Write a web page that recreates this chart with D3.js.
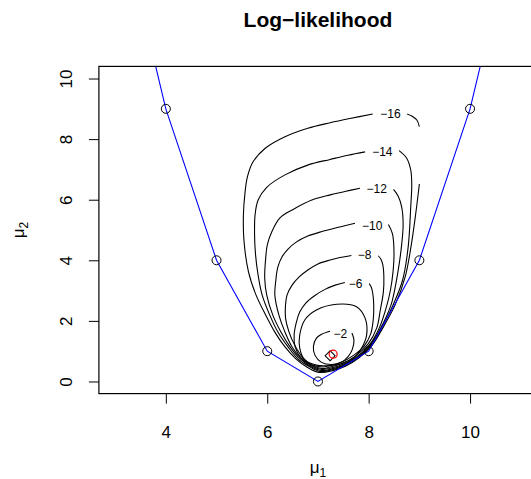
<!DOCTYPE html>
<html>
<head>
<meta charset="utf-8">
<script src="https://cdn.jsdelivr.net/npm/d3@7"></script>
<style>
  body { margin: 0; background: #fff; }
  svg { display: block; font-family: "Liberation Sans", Arial, sans-serif; }
  .contour { fill: none; stroke: #000; stroke-width: 1.1; }
  .clab { font-size: 12px; text-anchor: middle; dominant-baseline: central; }
  .axis text { font-size: 17px; fill: #000; font-family: "Liberation Sans", Arial, sans-serif; }
  .axis line { stroke: #000; }
</style>
</head>
<body>
<div id="chart"></div>
<script>
var width = 531, height = 479;

// parabola points mu2 = (mu1 - 7)^2, as plotted
var curveMu1 = [3, 4, 5, 6, 7, 8, 9, 10, 11];
var curveMu2 = [16, 9, 4, 1, 0, 1, 4, 9, 16];
var pointMu1 = [4, 5, 6, 7, 8, 9, 10];
var pointMu2 = [9, 4, 1, 0, 1, 4, 9];

// estimates
var diamondPt = [7.24, 0.85];
var redPt = [7.30, 0.90];

// contour lines, [mu1, mu2]
var contour16 = [[8.08,8.83],[7.63,8.68],[7.24,8.54],[6.80,8.36],[6.35,8.08],[5.96,7.70],[5.72,7.25],
  [5.61,6.76],[5.56,6.21],[5.53,5.50],[5.54,4.67],[5.63,3.62],[5.78,2.85],[5.97,2.19],[6.15,1.63],
  [6.35,1.14],[6.57,0.74],[6.78,0.48],[7.02,0.30],[7.28,0.35],[7.55,0.51],[7.81,0.78],[8.07,1.20],
  [8.28,1.77],[8.52,2.52],[8.72,3.45],[8.84,4.50],[8.93,5.56],[9.00,6.52]];
var contour16b = [[9.00,8.41],[8.95,8.63],[8.85,8.76],[8.76,8.83]];
var contour14 = [[7.93,7.58],[7.59,7.47],[7.24,7.33],[6.81,7.15],[6.35,6.82],[5.99,6.41],[5.82,5.99],
  [5.76,5.50],[5.75,4.83],[5.77,4.17],[5.82,3.51],[5.90,2.85],[6.05,2.19],[6.21,1.63],[6.41,1.14],
  [6.61,0.74],[6.82,0.50],[7.04,0.33],[7.26,0.38],[7.53,0.53],[7.79,0.78],[8.05,1.20],[8.26,1.77],
  [8.48,2.52],[8.67,3.35],[8.78,4.45],[8.83,5.77],[8.85,6.49],[8.83,6.98],[8.75,7.37],[8.60,7.62]];
var contour12 = [[7.83,6.38],[7.53,6.27],[7.24,6.16],[6.88,5.99],[6.51,5.68],[6.25,5.40],[6.09,4.94],
  [6.00,4.50],[5.97,4.08],[5.95,3.41],[5.99,2.85],[6.11,2.19],[6.27,1.63],[6.45,1.14],[6.64,0.76],
  [6.84,0.51],[7.06,0.36],[7.24,0.40],[7.51,0.54],[7.77,0.78],[8.03,1.20],[8.24,1.77],[8.44,2.52],
  [8.50,2.92],[8.59,3.75],[8.65,4.50],[8.68,5.17],[8.65,5.77],[8.58,6.12],[8.49,6.34]];
var contour10 = [[7.73,5.22],[7.43,5.10],[7.08,4.95],[6.80,4.80],[6.57,4.60],[6.41,4.37],[6.29,4.11],
  [6.21,3.78],[6.17,3.35],[6.15,2.85],[6.23,2.19],[6.35,1.63],[6.49,1.14],[6.66,0.78],[6.86,0.53],
  [7.08,0.40],[7.22,0.43],[7.49,0.56],[7.75,0.79],[8.01,1.20],[8.21,1.77],[8.36,2.52],[8.43,3.02],
  [8.48,3.61],[8.50,4.24],[8.47,4.87],[8.39,5.18]];
var contour8 = [[7.66,4.16],[7.43,4.09],[7.24,4.01],[7.00,3.88],[6.80,3.68],[6.63,3.45],[6.49,3.18],
  [6.39,2.85],[6.36,2.52],[6.36,2.10],[6.43,1.63],[6.55,1.17],[6.70,0.79],[6.88,0.54],[7.08,0.43],
  [7.20,0.46],[7.47,0.59],[7.73,0.83],[7.99,1.24],[8.16,1.77],[8.23,2.36],[8.29,2.95],[8.30,3.45],
  [8.28,3.84],[8.24,4.04],[8.19,4.15]];
var contour6 = [[7.53,3.27],[7.34,3.18],[7.14,3.04],[6.94,2.84],[6.76,2.59],[6.64,2.29],[6.57,1.93],
  [6.53,1.53],[6.55,1.14],[6.66,0.79],[6.86,0.56],[7.10,0.48],[7.18,0.50],[7.45,0.63],[7.71,0.87],
  [7.91,1.17],[8.04,1.57],[8.09,2.03],[8.10,2.52],[8.08,2.92],[8.05,3.12],[8.01,3.23]];
var contour4 = [[7.37,2.55],[6.97,2.36],[6.74,2.03],[6.64,1.53],[6.64,1.11],[6.74,0.71],[6.97,0.54],
  [7.24,0.53],[7.50,0.60],[7.70,0.77],[7.86,1.10],[7.96,1.53],[7.93,2.09],[7.76,2.47]];
var contour2 = [[7.24,1.66],[7.07,1.56],[6.97,1.43],[6.91,1.15],[6.94,0.87],[7.07,0.63],[7.27,0.56],
  [7.47,0.64],[7.59,0.81],[7.68,1.07],[7.71,1.37],[7.67,1.60]];

var openContours = [contour16, contour16b, contour14, contour12, contour10, contour8, contour6, contour2];
var closedContours = [contour4];

var labelText = ["\u221216", "\u221214", "\u221212", "\u221210", "\u22128", "\u22126", "\u22122"];
var labelMu1 = [8.43, 8.27, 8.16, 8.07, 7.92, 7.74, 7.44];
var labelMu2 = [8.83, 7.57, 6.35, 5.14, 4.16, 3.23, 1.58];

var xTicks = [4, 6, 8, 10];
var yTicks = [0, 2, 4, 6, 8, 10];

var plotLeft = 98.9, plotRight = 537, plotTop = 66.4, plotBottom = 393.6;

var x = d3.scaleLinear().domain([2.68, 11.32]).range([plotLeft, plotRight]);
var y = d3.scaleLinear().domain([-0.4, 10.4]).range([plotBottom, plotTop]);

var svg = d3.select("#chart").append("svg")
  .attr("width", width)
  .attr("height", height);

svg.append("defs").append("clipPath")
    .attr("id", "plotclip")
  .append("rect")
    .attr("x", plotLeft).attr("y", plotTop)
    .attr("width", plotRight - plotLeft).attr("height", plotBottom - plotTop);

var plot = svg.append("g").attr("clip-path", "url(#plotclip)");

var line = d3.line()
  .x(function(d) { return x(d[0]); })
  .y(function(d) { return y(d[1]); })
  .curve(d3.curveCatmullRom);

var loop = d3.line()
  .x(function(d) { return x(d[0]); })
  .y(function(d) { return y(d[1]); })
  .curve(d3.curveCatmullRomClosed);

plot.selectAll(".contour.open")
  .data(openContours)
  .enter().append("path")
    .attr("class", "contour open")
    .attr("d", line);

plot.selectAll(".contour.closed")
  .data(closedContours)
  .enter().append("path")
    .attr("class", "contour closed")
    .attr("d", loop);

plot.selectAll(".clab")
  .data(labelText)
  .enter().append("text")
    .attr("class", "clab")
    .attr("x", function(d, i) { return x(labelMu1[i]); })
    .attr("y", function(d, i) { return y(labelMu2[i]); })
    .text(function(d) { return d; });

// blue curve through the parabola points
var blueLine = d3.line()
  .x(function(d, i) { return x(curveMu1[i]); })
  .y(function(d) { return y(d); });

plot.append("path")
  .datum(curveMu2)
  .attr("d", blueLine)
  .attr("fill", "none")
  .attr("stroke", "#0000ff")
  .attr("stroke-width", 1.1);

plot.selectAll(".pt")
  .data(pointMu2)
  .enter().append("circle")
    .attr("class", "pt")
    .attr("cx", function(d, i) { return x(pointMu1[i]); })
    .attr("cy", function(d) { return y(d); })
    .attr("r", 4.5)
    .attr("fill", "none")
    .attr("stroke", "#000")
    .attr("stroke-width", 1);

plot.append("path")
  .attr("d", d3.symbol(d3.symbolSquare, 50)())
  .attr("transform", "translate(" + x(diamondPt[0]) + "," + y(diamondPt[1]) + ") rotate(45)")
  .attr("fill", "none")
  .attr("stroke", "#000")
  .attr("stroke-width", 1);

plot.append("circle")
  .attr("cx", x(redPt[0]))
  .attr("cy", y(redPt[1]))
  .attr("r", 4)
  .attr("fill", "none")
  .attr("stroke", "#ff0000")
  .attr("stroke-width", 1.2);

// axes
var xAxis = svg.append("g")
  .attr("class", "axis")
  .attr("transform", "translate(0," + plotBottom + ")")
  .call(d3.axisBottom(x).tickValues(xTicks).tickSize(10).tickSizeOuter(0).tickPadding(22));
xAxis.select(".domain").remove();

var yAxis = svg.append("g")
  .attr("class", "axis")
  .attr("transform", "translate(" + plotLeft + ",0)")
  .call(d3.axisLeft(y).tickValues(yTicks).tickSize(10).tickSizeOuter(0));
yAxis.select(".domain").remove();
yAxis.selectAll("text")
  .attr("x", 0)
  .attr("y", -27)
  .attr("dy", 0)
  .attr("transform", "rotate(-90)")
  .style("text-anchor", "middle");

// box
svg.append("rect")
  .attr("x", plotLeft).attr("y", plotTop)
  .attr("width", plotRight - plotLeft).attr("height", plotBottom - plotTop)
  .attr("fill", "none")
  .attr("stroke", "#000")
  .attr("stroke-width", 1.2);

// titles
svg.append("text")
  .attr("x", (plotLeft + plotRight) / 2)
  .attr("y", 27)
  .attr("text-anchor", "middle")
  .style("font-size", "21px")
  .style("font-weight", "bold")
  .text("Log\u2212likelihood");

var xlab = svg.append("text")
  .attr("x", (plotLeft + plotRight) / 2)
  .attr("y", 473)
  .attr("text-anchor", "middle")
  .style("font-size", "17px");
xlab.append("tspan").text("\u03bc");
xlab.append("tspan").attr("dy", 4).style("font-size", "12px").text("1");

var ylab = svg.append("text")
  .attr("transform", "translate(24," + ((plotTop + plotBottom) / 2) + ") rotate(-90)")
  .attr("text-anchor", "middle")
  .style("font-size", "17px");
ylab.append("tspan").text("\u03bc");
ylab.append("tspan").attr("dy", 4).style("font-size", "12px").text("2");
</script>
</body>
</html>
